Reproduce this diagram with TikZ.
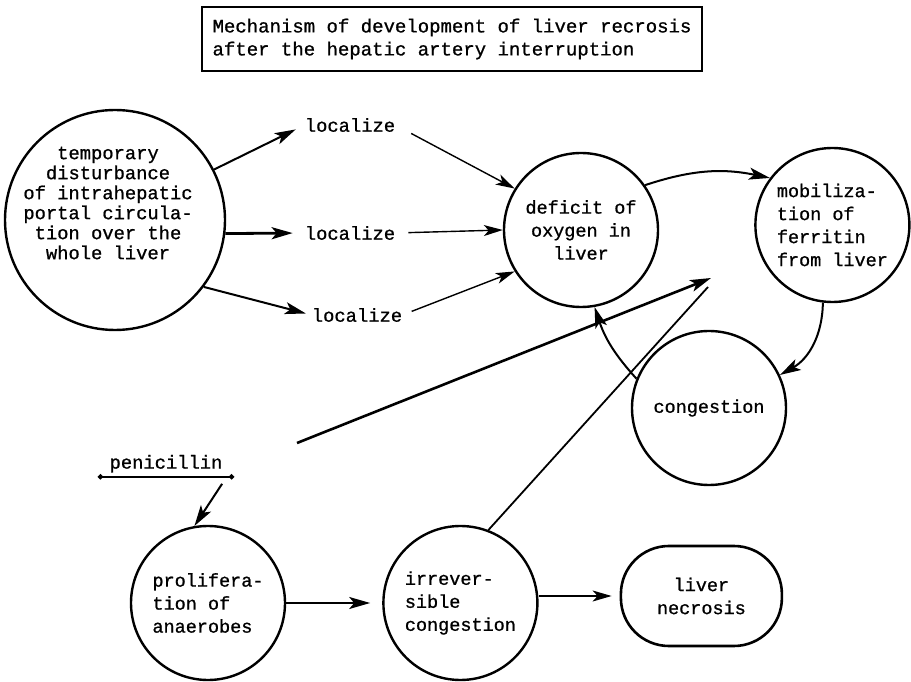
\documentclass[tikz,border=0pt]{standalone}
\usepackage{fontspec}
\setmonofont{Liberation Mono}[FakeBold=0.9]
\usetikzlibrary{arrows.meta, positioning}
\tikzset{
    bubble/.style={circle, draw, line width=2.4pt, minimum size=154pt, inner sep=0pt, align=center, font=\ttfamily\fontsize{18.5}{23}\selectfont},
    bigbubble/.style={circle, draw, line width=2.4pt, minimum size=220pt, inner sep=0pt},
    typed/.style={inner sep=0pt, align=center, font=\ttfamily\fontsize{18.8}{20}\selectfont},
    heading/.style={rectangle, draw, line width=2.2pt, align=left, minimum width=500pt, minimum height=64pt, inner xsep=9pt, font=\ttfamily\fontsize{19}{23}\selectfont},
    outcome/.style={rectangle, draw, line width=2.6pt, rounded corners=48pt, minimum width=161pt, minimum height=100pt, align=center, font=\ttfamily\fontsize{18.5}{23}\selectfont},
    arrow/.style={line width=2pt, ->, >={Stealth[length=21pt, width=12pt, inset=5pt]}},
    thinarrow/.style={line width=1.4pt, ->, >={Stealth[length=19pt, width=11pt, inset=5pt]}},
    line/.style={line width=1.8pt}
}

\begin{document}
\begin{tikzpicture}[x=1pt, y=1pt]
    \useasboundingbox (0,0) rectangle (911,681);

    \node[heading] (title) at (452,642) {Mechanism of development of liver recrosis\\after the hepatic artery interruption};

    % top row
    \node[bigbubble] (disturbance) at (115,461) {};
    \node[typed] (disturbancetext) at (108,478) {temporary\\disturbance\\of intrahepatic\\portal circula-\\tion over the\\whole liver};

    \node[typed] (localizeone) at (350,556) {localize};
    \node[typed] (localizetwo) at (350,448) {localize};
    \node[typed] (localizethree) at (357,366) {localize};

    \node[bubble] (deficit) at (581,451) {deficit of\\oxygen in\\liver};
    \node[bubble, align=left, right=95pt of deficit, yshift=5pt] (mobilization) {mobiliza-\\tion of\\ferritin\\from liver};
    \node[bubble] (congestion) at (709,273) {congestion};

    % bottom row
    \node[bubble, align=left] (proliferation) at (208,78) {prolifera-\\tion of\\anaerobes};
    \node[typed, text depth=0pt, inner xsep=11.5pt, inner ysep=8pt, above=48pt of proliferation, xshift=-42pt] (penicillin) {penicillin};
    \node[bubble, align=left, right=96pt of proliferation] (irreversible) {irrever-\\sible\\congestion};
    \node[outcome, right=81pt of irreversible, yshift=7pt] (necrosis) {liver\\necrosis};

    \coordinate (freestart) at (297,238);
    \coordinate (freetip) at (711,403);
    \coordinate (irrevend) at (708,394);

    \draw[arrow, shorten >=10pt] (disturbance.27) -- (localizeone.west);
    \draw[arrow, line width=2.8pt, shorten >=12pt] (disturbance.-7) -- (localizetwo.west);
    \draw[arrow, shorten >=6pt] (disturbance.-37) -- (localizethree.west);

    \draw[thinarrow, shorten <=18pt] (localizeone.east) -- (deficit.148);
    \draw[thinarrow, shorten <=13pt] (localizetwo.east) -- (deficit.west);
    \draw[thinarrow, shorten <=10pt] (localizethree.east) -- (deficit.212);

    \draw[arrow] (deficit.35) to[bend left=15] (mobilization.143);
    \draw[arrow] (mobilization.263) to[bend left=30] (congestion.25);
    \draw[arrow] (congestion.158) to[bend left=12] (deficit.280);

    \draw[arrow, line width=2.6pt] (freestart) -- (freetip);
    \draw[line] (irreversible.69) -- (irrevend);

    \draw[line width=2pt, {Circle[length=5pt]}-{Circle[length=5pt]}] (penicillin.south west) -- (penicillin.south east);
    \draw[arrow] ([xshift=-12pt, yshift=-7pt]penicillin.south east) -- (proliferation.100);
    \draw[arrow, shorten >=12pt] (proliferation) -- (irreversible);
    \draw[thinarrow, line width=1.6pt, shorten >=8pt] (irreversible.east |- necrosis.west) -- (necrosis.west);
\end{tikzpicture}
\end{document}
